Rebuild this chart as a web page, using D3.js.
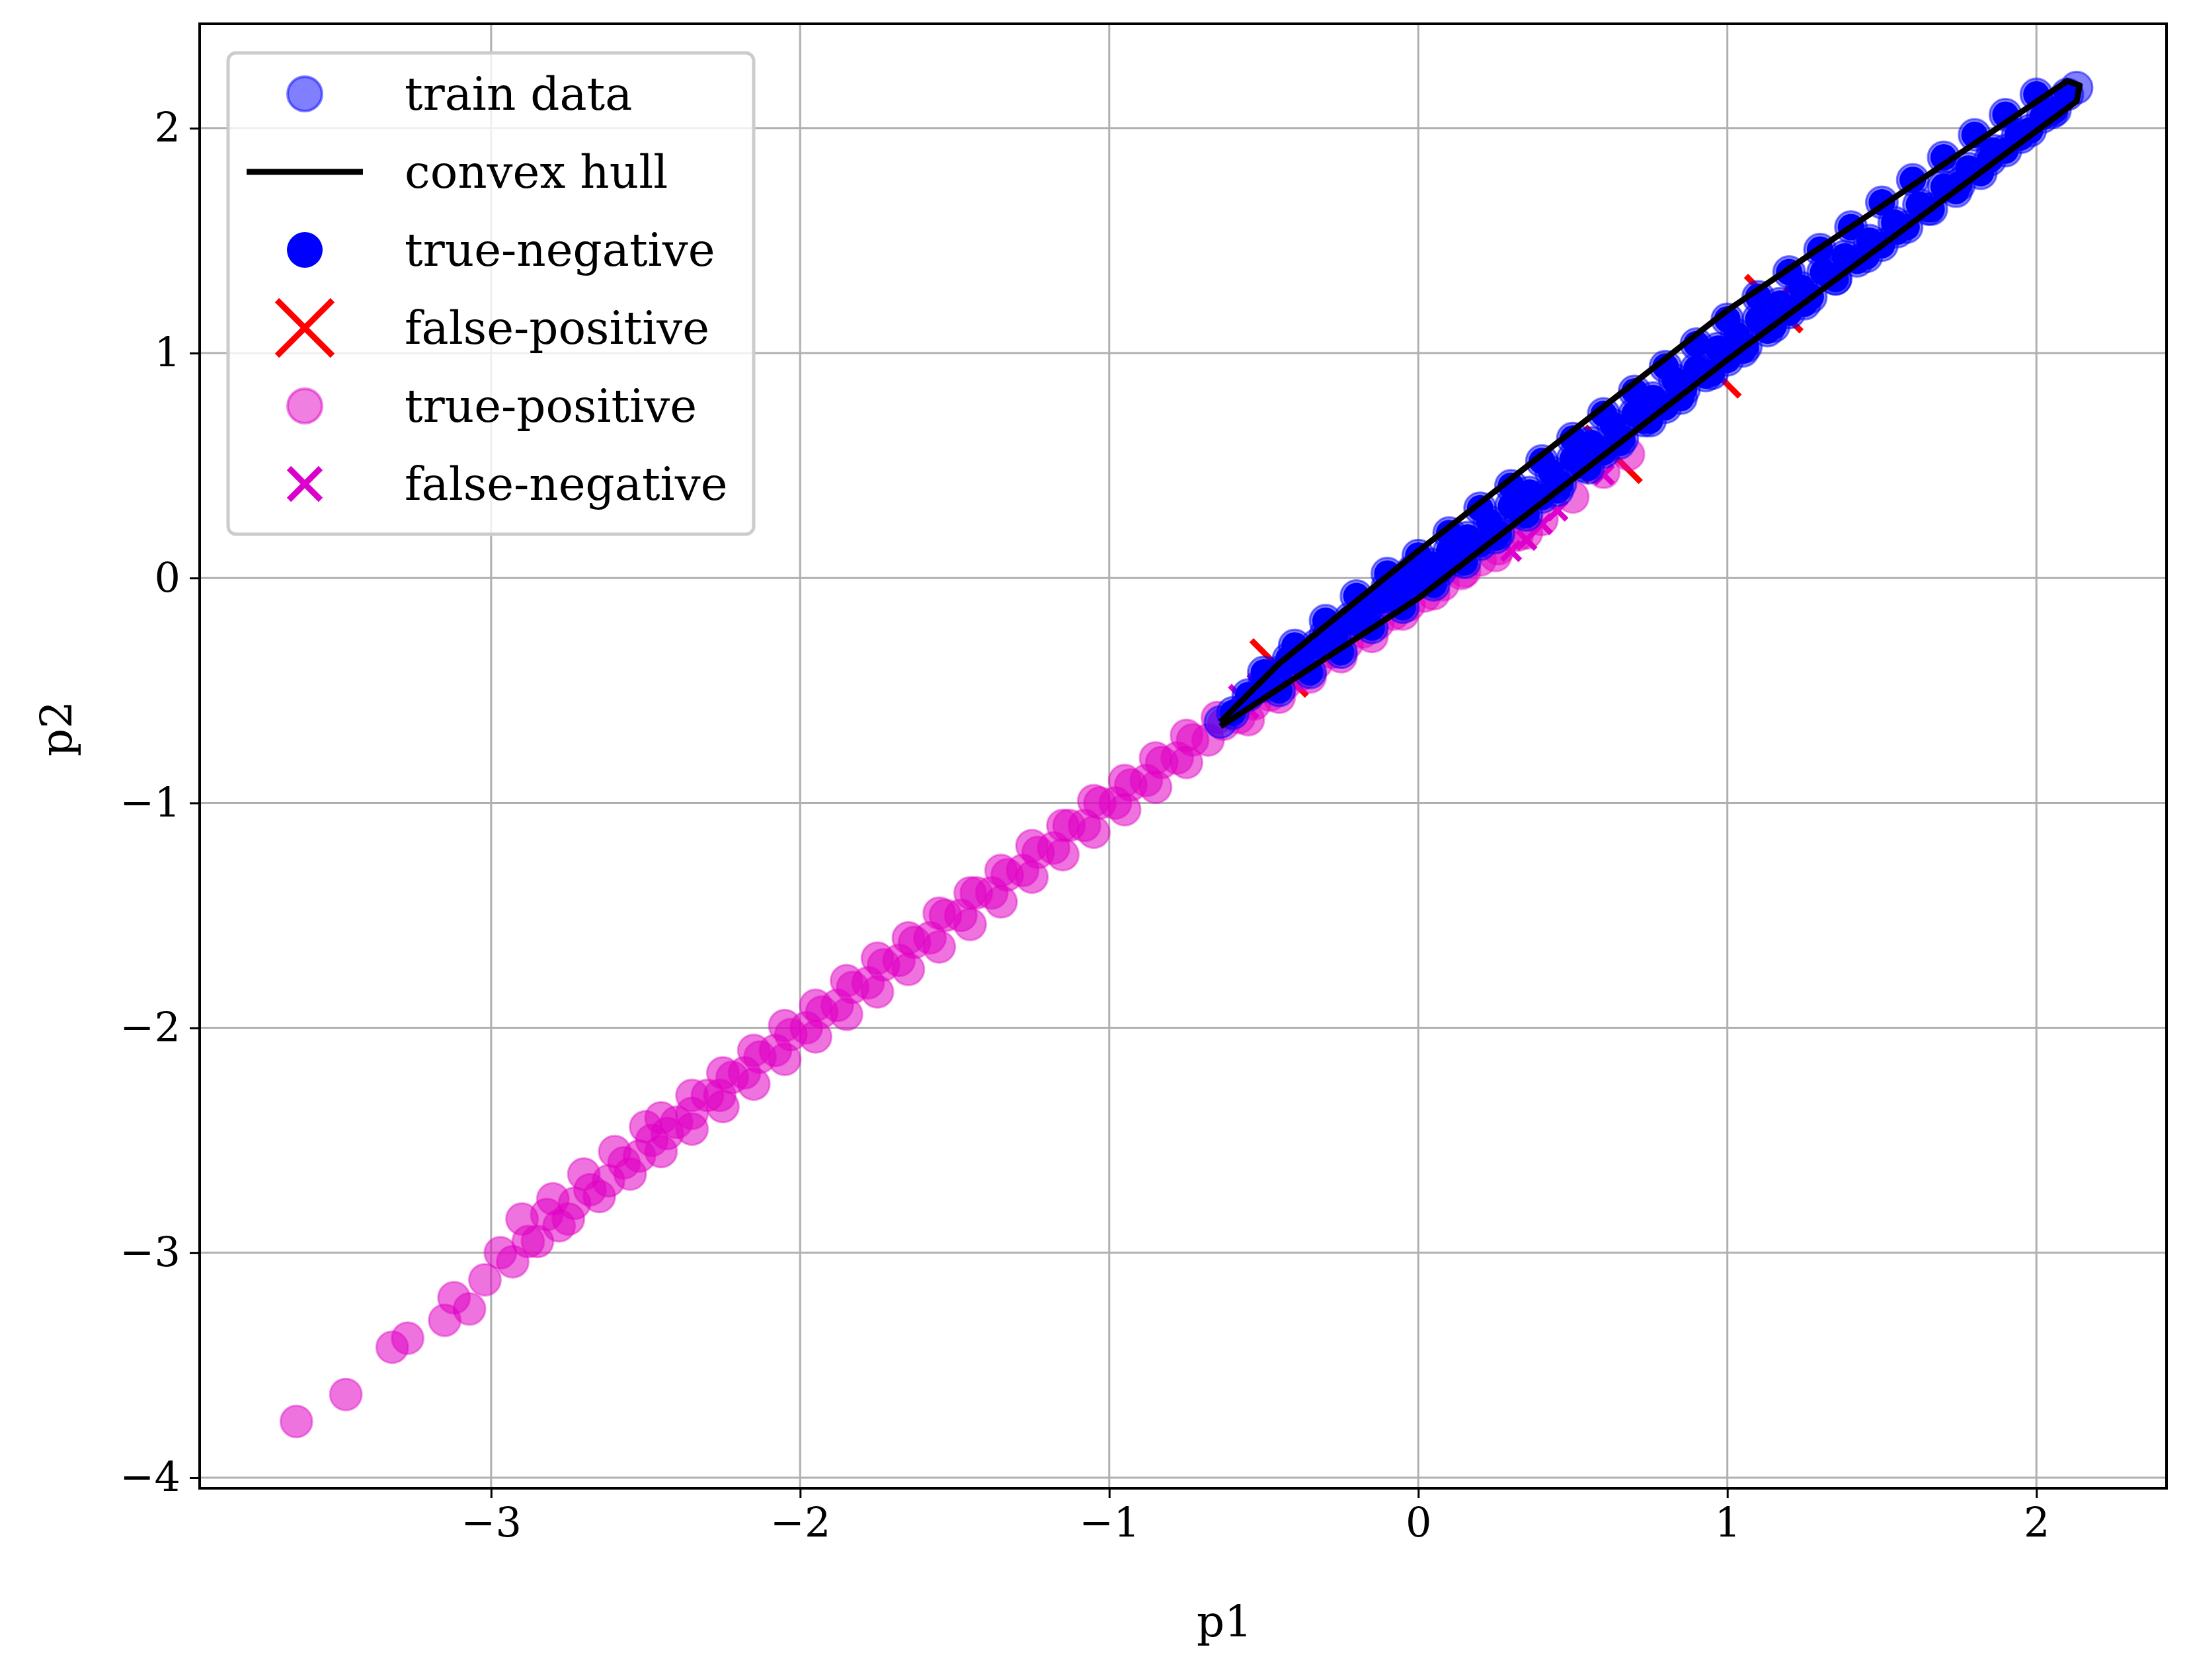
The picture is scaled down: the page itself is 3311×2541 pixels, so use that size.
<!DOCTYPE html>
<html><head><meta charset="utf-8">
<script src="https://cdn.jsdelivr.net/npm/d3@7"></script>
<style>body{margin:0;background:#fff}</style>
</head><body>
<svg id="chart" width="3311" height="2541"></svg>
<script>
// train data (also true-negative points)
const trainData = [[-0.64,-0.64],[-0.6,-0.6],[-0.55,-0.52],[-0.5,-0.48],[-0.45,-0.42],[-0.42,-0.36],[-0.38,-0.36],[-0.33,-0.3],[-0.3,-0.25],[-0.27,-0.26],[-0.22,-0.18],[-0.2,-0.2],[-0.16,-0.12],[-0.12,-0.1],[-0.1,-0.04],[-0.05,-0.04],[-0.02,0.03],[0.0,-0.02],[0.04,0.06],[0.07,0.03],[0.1,0.12],[0.13,0.08],[0.16,0.18],[0.2,0.15],[0.23,0.25],[0.26,0.2],[0.3,0.32],[0.33,0.29],[0.36,0.38],[0.4,0.36],[0.43,0.47],[0.46,0.42],[0.5,0.53],[0.53,0.5],[0.56,0.6],[0.6,0.56],[0.63,0.68],[0.66,0.62],[0.7,0.73],[0.73,0.7],[0.76,0.8],[0.8,0.76],[0.83,0.88],[0.86,0.84],[0.9,0.93],[0.93,0.9],[0.97,1.02],[1.0,0.97],[1.03,1.08],[1.06,1.03],[1.1,1.15],[1.13,1.1],[1.17,1.22],[1.2,1.18],[1.24,1.29],[1.27,1.25],[1.31,1.36],[1.35,1.33],[1.38,1.43],[1.42,1.41],[1.46,1.5],[1.5,1.48],[1.54,1.58],[1.58,1.56],[1.62,1.66],[1.66,1.64],[1.7,1.74],[1.74,1.72],[1.78,1.82],[1.82,1.8],[1.86,1.9],[1.9,1.9],[1.94,1.97],[1.98,1.99],[2.02,2.05],[2.06,2.08],[2.1,2.15],[2.13,2.18],
  [-0.5,-0.42],[-0.4,-0.3],[-0.3,-0.19],[-0.2,-0.08],[-0.1,0.02],[0.0,0.1],[0.1,0.2],[0.2,0.31],[0.3,0.41],[0.4,0.52],[0.5,0.62],[0.6,0.73],[0.7,0.83],[0.8,0.94],[0.9,1.04],[1.0,1.15],[1.1,1.25],[1.2,1.36],[1.3,1.46],[1.4,1.56],[1.5,1.67],[1.6,1.77],[1.7,1.87],[1.8,1.97],[1.9,2.06],[2.0,2.15],
  [-0.45,-0.5],[-0.35,-0.42],[-0.25,-0.33],[-0.15,-0.22],[-0.05,-0.13],[0.05,-0.03],[0.15,0.07],[0.25,0.18],[0.35,0.28],[0.45,0.39],[0.55,0.49],[0.65,0.6],[0.75,0.7],[0.85,0.8],[0.95,0.91],[1.05,1.01],[1.15,1.12],[1.25,1.22],[1.35,1.33],[1.45,1.43],[1.55,1.54],[1.65,1.64],[1.75,1.75],[1.85,1.86],[1.95,1.96],[2.05,2.07]];
const trueNegative = trainData.slice(1, 77).concat(trainData.slice(78));
const hull = [[-0.64,-0.64],[-0.45,-0.38],[0,0.12],[1,1.19],[2.1,2.21],[2.14,2.19],[2.13,2.12],[1,0.97],[0,-0.09],[-0.64,-0.66]];
const falsePositive = [[-0.45,-0.4],[1.15,1.22],[0.95,0.93],[0.63,0.55]];
const truePositive = [[-3.63,-3.75],[-3.47,-3.63],[-3.32,-3.42],[-3.27,-3.38],[-3.12,-3.2],[-3.15,-3.3],[-3.07,-3.25],[-3.02,-3.12],[-2.97,-3.0],[-2.93,-3.04],[-2.88,-2.95],[-2.82,-2.83],[-2.78,-2.88],[-2.73,-2.78],[-2.68,-2.72],[-2.62,-2.68],[-2.57,-2.6],[-2.52,-2.57],[-2.48,-2.5],[-2.43,-2.47],[-2.4,-2.42],[-2.35,-2.38],[-2.3,-2.3],[-2.26,-2.3],[-2.22,-2.22],[-2.18,-2.2],[-2.13,-2.13],[-2.08,-2.1],[-2.03,-2.03],[-1.98,-2.0],[-1.93,-1.93],[-1.88,-1.9],[-1.83,-1.82],[-1.78,-1.8],[-1.73,-1.72],[-1.68,-1.7],[-1.63,-1.62],[-1.58,-1.6],[-1.53,-1.5],[-1.48,-1.5],[-1.43,-1.4],[-1.38,-1.4],[-1.33,-1.32],[-1.28,-1.3],[-1.23,-1.22],[-1.18,-1.2],[-1.13,-1.1],[-1.08,-1.1],[-1.03,-1.0],[-0.98,-1.0],[-0.93,-0.92],[-0.88,-0.9],[-0.83,-0.82],[-0.78,-0.8],[-0.73,-0.72],[-0.68,-0.72],[-0.63,-0.65],[-0.58,-0.62],[-0.53,-0.56],[-0.48,-0.52],[-0.43,-0.47],[-0.38,-0.43],[-0.33,-0.38],[-0.28,-0.33],[-0.23,-0.29],[-0.18,-0.24],[-0.13,-0.2],[-0.08,-0.16],[-0.03,-0.12],[0.02,-0.08],[0.08,-0.03],[0.14,0.02],[0.2,0.08],[0.26,0.13],[0.32,0.19],[0.4,0.26],[0.5,0.36],[0.6,0.47],[0.68,0.55],
  [-2.9,-2.85],[-2.8,-2.76],[-2.7,-2.65],[-2.6,-2.55],[-2.5,-2.44],[-2.45,-2.4],[-2.35,-2.3],[-2.25,-2.2],[-2.15,-2.1],[-2.05,-1.99],[-1.95,-1.9],[-1.85,-1.79],[-1.75,-1.69],[-1.65,-1.6],[-1.55,-1.49],[-1.45,-1.4],[-1.35,-1.3],[-1.25,-1.19],[-1.15,-1.1],[-1.05,-0.99],[-0.95,-0.9],[-0.85,-0.8],[-0.75,-0.7],[-0.65,-0.62],
  [-2.85,-2.95],[-2.75,-2.85],[-2.65,-2.75],[-2.55,-2.65],[-2.45,-2.55],[-2.35,-2.45],[-2.25,-2.35],[-2.15,-2.25],[-2.05,-2.14],[-1.95,-2.04],[-1.85,-1.94],[-1.75,-1.84],[-1.65,-1.74],[-1.55,-1.64],[-1.45,-1.54],[-1.35,-1.44],[-1.25,-1.33],[-1.15,-1.23],[-1.05,-1.13],[-0.95,-1.03],[-0.85,-0.93],[-0.75,-0.82],[-0.55,-0.63],[-0.45,-0.53],[-0.35,-0.44],[-0.25,-0.35],[-0.15,-0.26],[-0.05,-0.16],[0.05,-0.07],[0.15,0.03],[0.25,0.1],[0.35,0.2]];
const falseNegative = [[-0.58,-0.52],[-0.52,-0.47],[-0.55,-0.58],[0.3,0.12],[0.35,0.17],[0.4,0.24],[0.45,0.3],[0.6,0.46]];
const xTicks = [-3,-2,-1,0,1,2];
const yTicks = [-4,-3,-2,-1,0,1,2];
const legendLabels = ["train data","convex hull","true-negative","false-positive","true-positive","false-negative"];

const m = {left:302, right:3277, top:36, bottom:2251};
const font = "'DejaVu Serif', serif";
const svg = d3.select('#chart');
const x = d3.scaleLinear().domain([-3.943, 2.421]).range([m.left, m.right]);
const y = d3.scaleLinear().domain([-4.047, 2.464]).range([m.bottom, m.top]);

// grid
svg.append('g').selectAll('line').data(xTicks).join('line')
  .attr('x1', d => x(d)).attr('x2', d => x(d)).attr('y1', m.top).attr('y2', m.bottom)
  .attr('stroke', '#b0b0b0').attr('stroke-width', 3);
svg.append('g').selectAll('line').data(yTicks).join('line')
  .attr('y1', d => y(d)).attr('y2', d => y(d)).attr('x1', m.left).attr('x2', m.right)
  .attr('stroke', '#b0b0b0').attr('stroke-width', 3);

const R = 24;
const cross = (g, data, h, color, w) => g.selectAll('path').data(data).join('path')
  .attr('d', d => `M${x(d[0])-h},${y(d[1])-h}L${x(d[0])+h},${y(d[1])+h}M${x(d[0])-h},${y(d[1])+h}L${x(d[0])+h},${y(d[1])-h}`)
  .attr('stroke', color).attr('stroke-width', w);

cross(svg.append('g'), falsePositive, 42, 'red', 9);
svg.append('g').selectAll('circle').data(truePositive).join('circle')
  .attr('cx', d => x(d[0])).attr('cy', d => y(d[1])).attr('r', R)
  .attr('fill', '#e000c4').attr('fill-opacity', 0.55).attr('stroke', '#e000c4').attr('stroke-opacity', 0.4).attr('stroke-width', 3);
cross(svg.append('g'), falseNegative, 14, '#dd00cc', 8);
svg.append('g').selectAll('circle').data(trainData).join('circle')
  .attr('cx', d => x(d[0])).attr('cy', d => y(d[1])).attr('r', R)
  .attr('fill', 'blue').attr('fill-opacity', 0.5).attr('stroke', 'blue').attr('stroke-opacity', 0.5).attr('stroke-width', 3);
svg.append('g').selectAll('circle').data(trueNegative).join('circle')
  .attr('cx', d => x(d[0])).attr('cy', d => y(d[1])).attr('r', R - 4)
  .attr('fill', 'blue');
svg.append('path').datum(hull)
  .attr('d', d3.line().x(d => x(d[0])).y(d => y(d[1])))
  .attr('fill', 'none').attr('stroke', 'black').attr('stroke-width', 9).attr('stroke-linejoin', 'round');

// axes
const xa = svg.append('g').attr('transform', `translate(0,${m.bottom})`)
  .call(d3.axisBottom(x).tickValues(xTicks).tickSize(15).tickPadding(14).tickFormat(d => d < 0 ? '\u2212' + (-d) : d));
const ya = svg.append('g').attr('transform', `translate(${m.left},0)`)
  .call(d3.axisLeft(y).tickValues(yTicks).tickSize(15).tickPadding(14).tickFormat(d => d < 0 ? '\u2212' + (-d) : d));
[xa, ya].forEach(a => {
  a.select('.domain').remove();
  a.selectAll('line').attr('stroke', '#000').attr('stroke-width', 3);
  a.selectAll('text').attr('font-family', font).attr('font-size', 62).attr('fill', '#000');
});
svg.append('rect').attr('x', m.left).attr('y', m.top).attr('width', m.right - m.left).attr('height', m.bottom - m.top)
  .attr('fill', 'none').attr('stroke', '#000').attr('stroke-width', 4);

svg.append('text').attr('x', 1852).attr('y', 2475).attr('text-anchor', 'middle')
  .attr('font-family', font).attr('font-size', 66).text('p1');
svg.append('text').attr('transform', `translate(108,1102) rotate(-90)`).attr('text-anchor', 'middle')
  .attr('font-family', font).attr('font-size', 66).text('p2');

// legend
const lg = svg.append('g');
lg.append('rect').attr('x', 345).attr('y', 80).attr('width', 795).attr('height', 728).attr('rx', 12)
  .attr('fill', 'white').attr('fill-opacity', 0.8).attr('stroke', '#cccccc').attr('stroke-width', 5);
const rows = lg.selectAll('g').data(legendLabels).join('g')
  .attr('transform', (d, i) => `translate(0,${142 + i * 118})`);
rows.append('text').attr('x', 612).attr('y', 0).attr('dy', '0.35em')
  .attr('font-family', font).attr('font-size', 69).text(d => d);
const mx = 461;
rows.each(function(d, i) {
  const g = d3.select(this);
  if (i === 0) g.append('circle').attr('cx', mx).attr('r', 26).attr('fill', 'blue').attr('fill-opacity', 0.5).attr('stroke', 'blue').attr('stroke-opacity', 0.5).attr('stroke-width', 4);
  if (i === 1) g.append('line').attr('x1', 373).attr('x2', 549).attr('stroke', 'black').attr('stroke-width', 9);
  if (i === 2) g.append('circle').attr('cx', mx).attr('r', 27).attr('fill', 'blue');
  if (i === 3) g.append('path').attr('d', `M${mx-42},-42L${mx+42},42M${mx-42},42L${mx+42},-42`).attr('stroke', 'red').attr('stroke-width', 9);
  if (i === 4) g.append('circle').attr('cx', mx).attr('r', 26).attr('fill', '#e000c4').attr('fill-opacity', 0.5).attr('stroke', '#e000c4').attr('stroke-opacity', 0.5).attr('stroke-width', 4);
  if (i === 5) g.append('path').attr('d', `M${mx-24},-24L${mx+24},24M${mx-24},24L${mx+24},-24`).attr('stroke', '#dd00cc').attr('stroke-width', 9);
});
</script>
</body></html>
